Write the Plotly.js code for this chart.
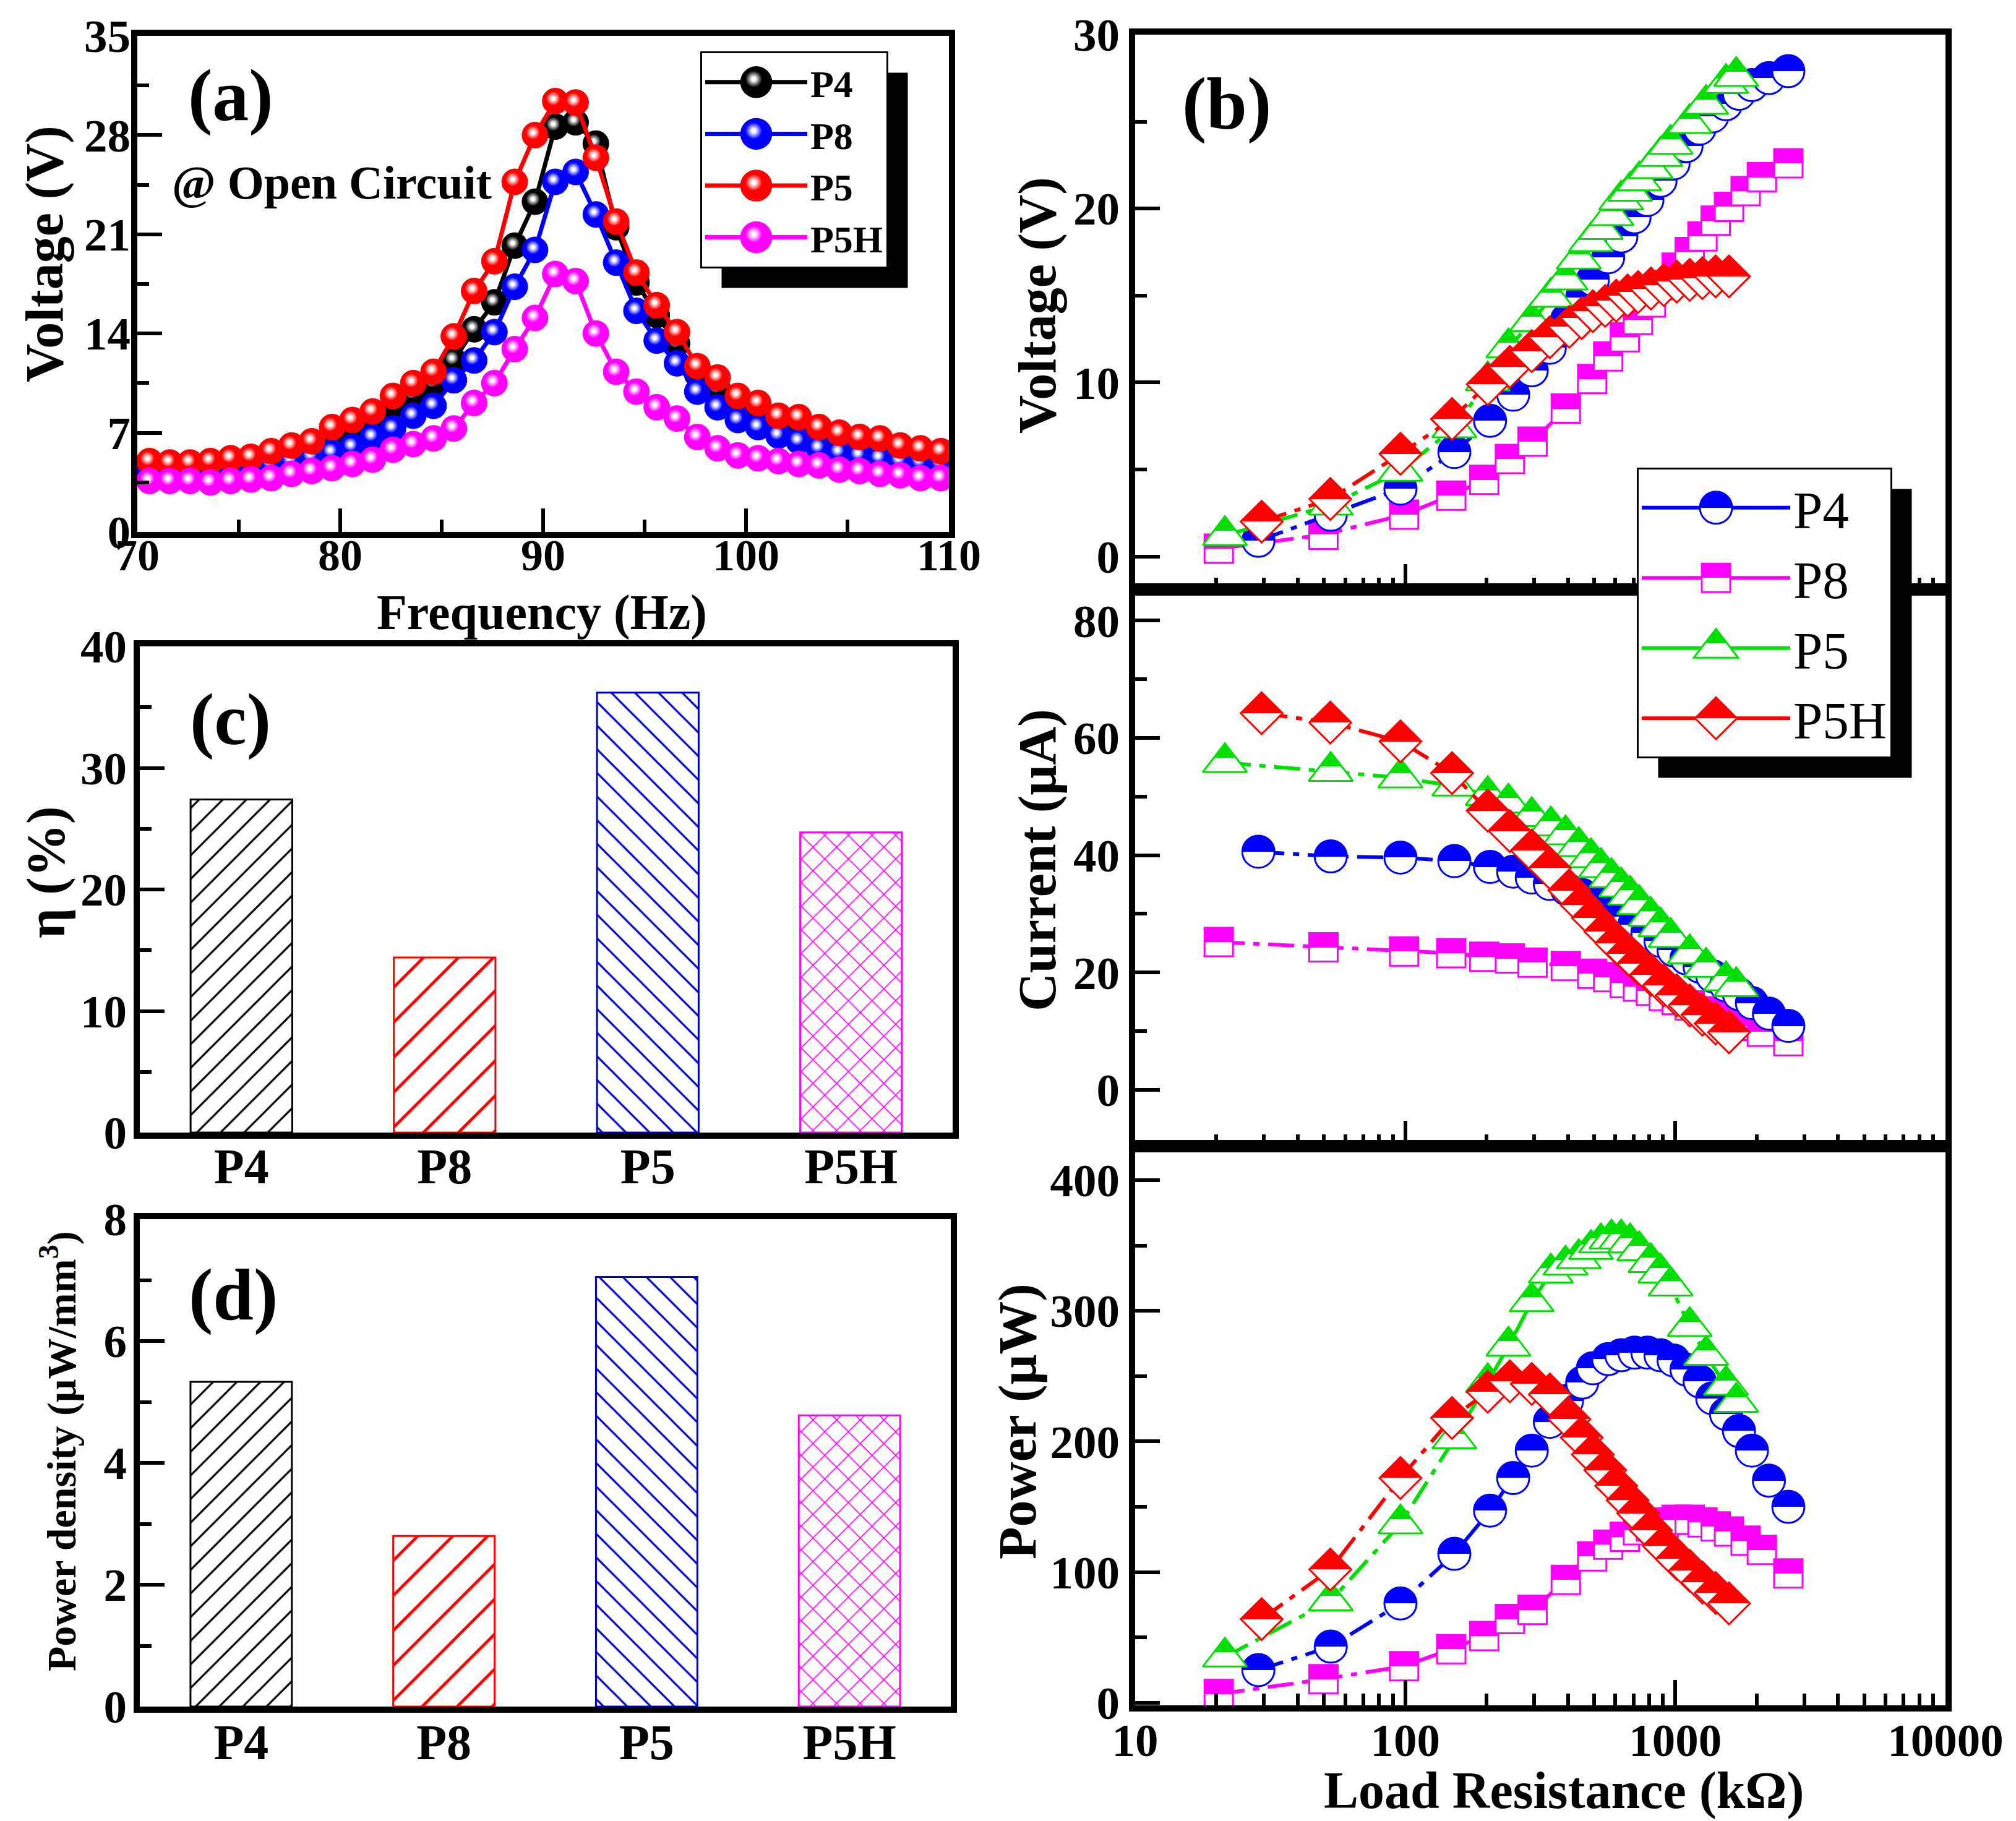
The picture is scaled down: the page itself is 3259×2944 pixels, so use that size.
<!DOCTYPE html>
<html>
<head>
<meta charset="utf-8">
<script src="https://cdn.plot.ly/plotly-3.0.1.min.js"></script>
<style>
html,body{margin:0;padding:0;background:#fff;}
#chart{width:3259px;height:2944px;}
</style>
</head>
<body>
<div id="chart"></div>
<script>
// ---------------- DATA ----------------
// (a) open-circuit voltage vs frequency
const freqA = [70.6,71.6,72.6,73.6,74.6,75.6,76.6,77.6,78.6,79.6,80.6,81.6,82.6,83.6,84.6,85.6,86.6,87.6,88.6,89.6,
               90.6,91.6,92.6,93.6,94.6,95.6,96.6,97.6,98.6,99.6,100.6,101.6,102.6,103.6,104.6,105.6,106.6,107.6,108.6,109.6];
const voltA_P4  = [4.8,4.7,4.7,4.8,5.0,5.1,5.4,5.7,6.0,6.8, 7.3,7.9,8.9,9.7,10.5,12.1,14.3,16.2,20.2,23.3,
                   28.6,28.9,27.4,21.5,17.6,15.3,13.3,11.1,10.1,9.0, 8.5,7.8,7.5,7.0,6.6,6.3,6.1,5.7,5.5,5.3];
const voltA_P8  = [4.3,4.2,4.2,4.3,4.4,4.5,4.8,5.0,5.3,5.6, 6.0,6.7,7.3,8.2,8.9,10.7,12.1,14.1,17.3,19.9,
                   24.7,25.4,22.4,19.0,15.6,13.5,11.9,9.9,8.8,7.9, 7.4,6.8,6.4,5.9,5.6,5.4,5.2,5.0,4.9,4.8];
const voltA_P5  = [5.0,4.9,4.9,5.0,5.2,5.3,5.7,6.1,6.4,7.4, 7.9,8.5,9.6,10.5,11.3,13.8,17.0,19.1,24.7,28.0,
                   30.4,30.3,26.4,21.9,18.3,16.0,14.1,11.7,10.9,9.6, 9.1,8.2,8.1,7.4,7.0,6.7,6.6,6.1,5.9,5.7];
const voltA_P5H = [3.6,3.6,3.6,3.5,3.6,3.7,3.8,4.1,4.3,4.5, 4.8,5.1,5.8,6.2,6.6,7.3,9.1,10.5,12.9,15.1,
                   18.2,17.7,14.0,11.3,9.9,8.8,8.0,6.7,5.9,5.4, 5.2,5.0,4.8,4.7,4.4,4.3,4.1,4.0,3.8,3.8];

// (b) load resistance sweeps (kΩ) and voltage (V), current (μA), power (μW)
const rP4  = [28.6,53,96,152,206,251,294,343,397,452,495,564,631,706,788,881,985,1100,1230,1370,1540,1720,1920,2220,2620];
const vP4  = [0.9,2.4,3.9,6.0,7.8,9.3,10.7,12.0,13.6,14.9,15.9,17.2,18.4,19.5,20.5,21.6,22.6,23.6,24.6,25.3,26.0,26.6,27.1,27.5,27.9];
const iP4  = [40.6,39.8,39.6,39.0,38.0,37.2,36.2,35.1,34.2,33.2,32.2,30.8,29.5,28.2,26.8,25.4,23.8,22.4,21.0,19.4,17.8,16.3,14.8,13.0,10.9];
const pP4  = [25,43,76,114,147,172,193,215,231,245,256,263,266,268,268,266,262,255,246,233,221,208,193,170,150];

const rP8  = [20.4,49.8,99,148,196,244,296,393,492,564,650,727,812,906,1012,1130,1260,1410,1580,1820,2090,2620];
const vP8  = [0.45,1.25,2.4,3.5,4.4,5.6,6.6,8.5,10.2,11.5,12.6,13.6,14.6,15.6,16.6,17.5,18.4,19.3,20.1,21.0,21.8,22.6];
const iP8  = [25.2,24.3,23.6,23.3,22.7,22.4,21.7,21.1,19.8,19.2,18.2,17.6,16.9,16.0,15.3,14.4,13.4,12.8,11.5,10.9,9.9,8.3];
const pP8  = [6.6,18,28,41,51,64,71,94,112,121,127,132,135,138,140,140,138,135,131,124,117,99];

const rP5  = [21.5,53,96,152,202,241,294,346,392,439,487,530,580,630,680,735,810,880,960,1130,1300,1540,1680];
const vP5  = [1.2,2.95,4.9,7.4,10.1,12.0,13.5,14.9,15.9,17.1,18.1,18.8,19.6,20.5,21.0,21.6,22.3,23.0,23.7,24.9,26.0,27.2,27.6];
const iP5  = [55.8,54.3,53.2,51.8,50.2,48.9,46.6,45.0,43.5,41.5,39.6,37.9,36.2,34.6,33.2,31.6,29.6,27.8,26.0,23.2,20.9,18.6,17.6];
const pP5  = [35,78,137,202,245,273,307,329,335,340,347,352,355,355,352,346,337,329,319,288,266,243,230];

const rP5H = [29.4,52.8,96,149,202,244,294,343,405,450,495,550,604,666,728,812,906,1012,1130,1260,1410,1580];
const vP5H = [2.0,3.3,5.9,7.9,9.9,10.9,11.8,12.6,13.2,13.7,14.1,14.4,14.7,15.0,15.2,15.4,15.6,15.8,15.9,16.0,16.1,16.1];
const iP5H = [64.2,62.6,59.4,54.0,47.6,44.1,40.8,37.8,34.0,31.5,29.3,27.0,25.0,23.2,21.5,19.6,17.8,16.1,14.4,12.8,11.3,9.8];
const pP5H = [64,102,172,218,238,246,244,236,217,203,190,178,166,155,145,132,120,110,101,92,84,76];

// (c), (d) bar panels
const barCats   = ['P4','P8','P5','P5H'];
const etaVals   = [27.4, 14.4, 36.2, 24.7];
const pdVals    = [5.33, 2.80, 7.05, 4.78];

// tick values
const ticksA_x      = [70,80,90,100,110];
const minorA_x      = [75,85,95,105];
const ticksLog      = [10,100,1000,10000];
const minorLog      = [20,30,40,50,60,70,80,90,200,300,400,500,600,700,800,900,2000,3000,4000,5000,6000,7000,8000,9000];

// ---------------- STYLE ----------------
const W = 3259, H = 2944;
const FONT = '"Liberation Serif", "Times New Roman", Times, serif';
const BLACK = '#000000', BLUE = '#0000ff', RED = '#ff0000', MAG = '#ff00ff', GREEN = '#00e000';
const barColors = [BLACK, RED, '#0000cc', MAG];
const barShapes = ['/', '/', '\\', 'x'];
const barSizes  = [27, 40, 27, 27];
const px = v => v / W;
const py = v => 1 - v / H;

const tickFont = {family: FONT, size: 75, color: 'black', weight: 'bold'};
function axis(extra) {
  return Object.assign({
    showline: true, mirror: true, linecolor: 'black', linewidth: 10,
    ticks: 'inside', tickcolor: 'black', tickwidth: 6, ticklen: 40,
    showgrid: false, zeroline: false, tickfont: tickFont, fixedrange: true
  }, extra);
}
function minor(extra) {
  return Object.assign({ticks: 'inside', ticklen: 19, tickwidth: 6, tickcolor: 'black', showgrid: false}, extra);
}

// ---------------- TRACES ----------------
const traces = [];
function aTrace(name, y, color, rank) {
  return {
    type: 'scatter', mode: 'lines+markers', name: name, x: freqA, y: y,
    xaxis: 'x', yaxis: 'y', legend: 'legend', legendrank: rank,
    line: {color: color, width: 7},
    marker: {symbol: 'circle', size: 42, color: color, line: {color: color, width: 1},
             gradient: {type: 'radial', color: 'white'}},
    hoverinfo: 'skip'
  };
}
traces.push(aTrace('P4', voltA_P4, BLACK, 1));
traces.push(aTrace('P8', voltA_P8, BLUE, 2));
traces.push(aTrace('P5', voltA_P5, RED, 3));
traces.push(aTrace('P5H', voltA_P5H, MAG, 4));

const DASH = '42px,14px,10px,14px';
function bTrace(name, x, y, color, symbol, size, xa, ya, show, rank) {
  return {
    type: 'scatter', mode: 'lines+markers', name: name, x: x, y: y,
    xaxis: xa, yaxis: ya, legend: 'legend2', showlegend: show, legendrank: rank,
    line: {color: color, width: 6, dash: DASH},
    marker: {symbol: symbol, size: size, color: color, line: {color: color, width: 3},
             gradient: {type: 'vertical', color: 'white'}},
    hoverinfo: 'skip'
  };
}
const series = [
  {name: 'P8',  r: rP8,  v: vP8,  i: iP8,  p: pP8,  c: MAG,   s: 'square',      z: 46, rank: 2},
  {name: 'P4',  r: rP4,  v: vP4,  i: iP4,  p: pP4,  c: BLUE,  s: 'circle',      z: 52, rank: 1},
  {name: 'P5',  r: rP5,  v: vP5,  i: iP5,  p: pP5,  c: GREEN, s: 'triangle-up', z: 62, rank: 3},
  {name: 'P5H', r: rP5H, v: vP5H, i: iP5H, p: pP5H, c: RED,   s: 'diamond',     z: 52, rank: 4}
];
series.forEach(o => traces.push(bTrace(o.name, o.r, o.v, o.c, o.s, o.z, 'x4', 'y4', true, o.rank)));
series.forEach(o => traces.push(bTrace(o.name, o.r, o.i, o.c, o.s, o.z, 'x5', 'y5', false, o.rank)));
series.forEach(o => traces.push(bTrace(o.name, o.r, o.p, o.c, o.s, o.z, 'x6', 'y6', false, o.rank)));

function barTrace(vals, xa, ya) {
  return {
    type: 'bar', x: barCats, y: vals, xaxis: xa, yaxis: ya, width: 0.5, showlegend: false,
    marker: {color: 'white', line: {color: barColors, width: 3},
             pattern: {shape: barShapes, fgcolor: barColors, bgcolor: 'white', size: barSizes, solidity: 0.12, fillmode: 'replace'}},
    hoverinfo: 'skip'
  };
}
traces.push(barTrace(etaVals, 'x2', 'y2'));
traces.push(barTrace(pdVals, 'x3', 'y3'));

// ---------------- LAYOUT ----------------
function ann(text, x, y, size, extra) {
  return Object.assign({
    text: text, x: px(x), y: py(y), xref: 'paper', yref: 'paper',
    xanchor: 'center', yanchor: 'middle', showarrow: false,
    font: {family: FONT, size: size, color: 'black', weight: 'bold'}
  }, extra || {});
}
const catFont = {family: FONT, size: 80, color: 'black', weight: 'bold'};

const layout = {
  width: W, height: H,
  margin: {l: 0, r: 0, t: 0, b: 0},
  paper_bgcolor: 'white', plot_bgcolor: 'white',
  font: {family: FONT, color: 'black'},
  showlegend: true,
  // (a)
  xaxis: axis({domain: [px(222), px(1534)], anchor: 'y', range: [70, 110], tickmode: 'array', tickvals: ticksA_x,
               ticklen: 38, ticklabelstandoff: -34,
               tickfont: {family: FONT, size: 72, color: 'black', weight: 'bold'},
               minor: minor({tickmode: 'array', tickvals: minorA_x, ticklen: 20})}),
  yaxis: axis({domain: [py(860), py(58)], anchor: 'x', range: [0, 35], tick0: 0, dtick: 7, ticklabelstandoff: -14,
               minor: minor({dtick: 3.5})}),
  // (c)
  xaxis2: axis({domain: [px(226), px(1540)], anchor: 'y2', type: 'category', range: [-0.5, 3.5], ticks: '',
                tickfont: catFont, ticklabelstandoff: -24}),
  yaxis2: axis({domain: [py(1831), py(1045)], anchor: 'x2', range: [0, 40], tick0: 0, dtick: 10, ticklabelstandoff: -4,
                minor: minor({dtick: 5})}),
  // (d)
  xaxis3: axis({domain: [px(226), px(1537)], anchor: 'y3', type: 'category', range: [-0.5, 3.5], ticks: '',
                tickfont: catFont, ticklabelstandoff: -21}),
  yaxis3: axis({domain: [py(2759), py(1971)], anchor: 'x3', range: [0, 8], tick0: 0, dtick: 2, ticklabelstandoff: -4,
                minor: minor({dtick: 1})}),
  // (b) voltage
  xaxis4: axis({domain: [px(1835), px(3145)], anchor: 'y4', type: 'log', range: [1, 4], tickmode: 'array', tickvals: ticksLog,
                showticklabels: false, ticklen: 41, minor: minor({tickmode: 'array', tickvals: minorLog, ticklen: 19})}),
  yaxis4: axis({domain: [py(953), py(56)], anchor: 'x4', range: [-1.9, 30], tick0: 0, dtick: 10,
                minor: minor({dtick: 5})}),
  // (b) current
  xaxis5: axis({domain: [px(1835), px(3145)], anchor: 'y5', type: 'log', range: [1, 4], tickmode: 'array', tickvals: ticksLog,
                showticklabels: false, ticklen: 41, minor: minor({tickmode: 'array', tickvals: minorLog, ticklen: 19})}),
  yaxis5: axis({domain: [py(1853), py(953)], anchor: 'x5', range: [-9.6, 85.3], tick0: 0, dtick: 20,
                minor: minor({dtick: 10})}),
  // (b) power
  xaxis6: axis({domain: [px(1835), px(3145)], anchor: 'y6', type: 'log', range: [1, 4], tickmode: 'array', tickvals: ticksLog,
                ticktext: ['10', '100', '1000', '10000'], ticklen: 41, ticklabelstandoff: -18,
                minor: minor({tickmode: 'array', tickvals: minorLog, ticklen: 19})}),
  yaxis6: axis({domain: [py(2757), py(1853)], anchor: 'x6', range: [-2, 426], tick0: 0, dtick: 100,
                minor: minor({dtick: 50})}),
  legend: {
    x: px(1132), y: py(83), xanchor: 'left', yanchor: 'top',
    bgcolor: 'white', bordercolor: 'black', borderwidth: 3,
    font: {family: FONT, size: 62, color: 'black', weight: 'bold'},
    itemwidth: 165, traceorder: 'normal'
  },
  legend2: {
    x: px(2646), y: py(756), xanchor: 'left', yanchor: 'top',
    bgcolor: 'white', bordercolor: 'black', borderwidth: 3,
    font: {family: FONT, size: 85, color: 'black'},
    itemwidth: 240, traceorder: 'normal'
  },
  annotations: [
    ann('(a)', 373, 154, 118),
    ann('@ Open Circuit', 536, 295, 76),
    ann('(b)', 1983, 167, 118),
    ann('(c)', 372, 1163, 118),
    ann('(d)', 377, 2093, 118),
    ann('Voltage (V)', 72, 411, 86, {textangle: -90}),
    ann('Frequency (Hz)', 876, 990, 80),
    ann('η (%)', 74, 1410, 86, {textangle: -90}),
    ann('Power density (μW/mm<sup>3</sup>)', 95, 2346, 66, {textangle: -90}),
    ann('Voltage (V)', 1677, 494, 86, {textangle: -90}),
    ann('Current (μA)', 1677, 1391, 86, {textangle: -90}),
    ann('Power (μW)', 1645, 2298, 86, {textangle: -90}),
    ann('Load Resistance (kΩ)', 2528, 2895, 84)
  ]
};

// ---------------- POST STYLING ----------------
function setStops(g, stops) {
  while (g.firstChild) g.removeChild(g.firstChild);
  stops.forEach(function (s) {
    const el = document.createElementNS('http://www.w3.org/2000/svg', 'stop');
    el.setAttribute('offset', s[0] + '%');
    el.setAttribute('stop-color', s[1]);
    g.appendChild(el);
  });
}
function postFix(gd) {
  gd.querySelectorAll('linearGradient').forEach(function (g) {
    const st = g.querySelectorAll('stop');
    if (st.length !== 2) return;
    const a = st[0].getAttribute('stop-color'), b = st[1].getAttribute('stop-color');
    setStops(g, [[0, a], [50, a], [50, b], [100, b]]);
  });
  gd.querySelectorAll('radialGradient').forEach(function (g) {
    const st = g.querySelectorAll('stop');
    if (st.length !== 2) return;
    const a = st[0].getAttribute('stop-color'), b = st[1].getAttribute('stop-color');
    g.setAttribute('cx', '42%'); g.setAttribute('cy', '40%'); g.setAttribute('r', '60%');
    setStops(g, [[0, a], [10, a], [45, b], [100, b]]);
  });
  const grads = Array.from(gd.querySelectorAll('linearGradient, radialGradient'));
  gd.querySelectorAll('g.traces').forEach(function (tr) {
    const d = tr.__data__;
    const trace = d && d[0] && d[0].trace;
    if (!trace || !trace.marker) return;
    const isA = trace.legend === 'legend';
    const target = isA ? 50 : trace.marker.size;
    const s = target / 16;
    const g = grads.find(function (gr) { return trace.uid && gr.id.indexOf(trace.uid) >= 0; });
    tr.querySelectorAll('.legendpoints path.scatterpts').forEach(function (p) {
      if (g) p.style.fill = 'url(#' + g.id + ')';
      const t = p.getAttribute('transform') || '';
      p.setAttribute('transform', t + ' scale(' + s + ')');
      p.style.strokeWidth = ((isA ? 1.5 : 3) / s) + 'px';
    });
    tr.querySelectorAll('.legendlines path').forEach(function (p) {
      p.style.strokeDasharray = 'none';
    });
  });
}

const gd = document.getElementById('chart');
Plotly.newPlot(gd, traces, layout, {displayModeBar: false, responsive: false}).then(function () {
  const shapes = [];
  try {
    const root = gd.getBoundingClientRect();
    ['legend', 'legend2'].forEach(function (cls) {
      const bg = gd.querySelector('g.' + cls + ' rect.bg');
      if (!bg) return;
      const r = bg.getBoundingClientRect();
      const x0 = r.left - root.left + 33, y0 = r.top - root.top + 33;
      shapes.push({type: 'rect', xref: 'paper', yref: 'paper', layer: 'above',
                   x0: px(x0), x1: px(x0 + r.width), y0: py(y0 + r.height), y1: py(y0),
                   fillcolor: 'black', line: {width: 0}});
    });
  } catch (e) {}
  return Plotly.relayout(gd, {shapes: shapes});
}).then(function () {
  postFix(gd);
});
</script>
</body>
</html>
